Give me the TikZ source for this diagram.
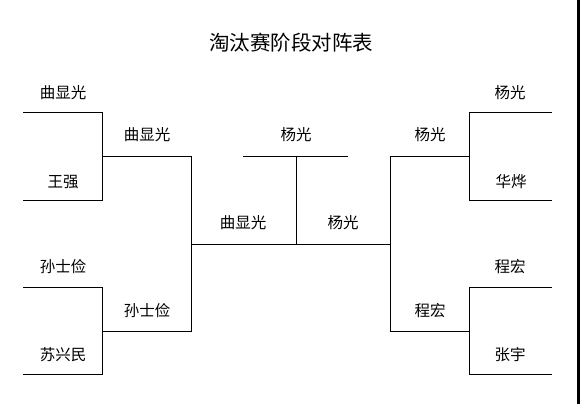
\documentclass[tikz,border=0pt]{standalone}
\usepackage{fontspec}
\newfontfamily\cjk{Noto Sans CJK SC}
\usetikzlibrary{positioning,calc}

\begin{document}
\begin{tikzpicture}[
		x=1pt, y=-1pt,
		bracket/.style={draw, line width=1pt, line join=miter},
		player/.style={font=\cjk\fontsize{15.5}{15.5}\selectfont, inner sep=0pt},
		title/.style={font=\cjk\fontsize{20.5}{20.5}\selectfont, inner sep=0pt}
		]
		\useasboundingbox (0,0) rectangle (580,406);
		
		% --------------------------------------------------
		% Title
		% --------------------------------------------------
		\node[title] (T) at (291,43) {淘汰赛阶段对阵表};
		
		% --------------------------------------------------
		% LEFT HALF
		% --------------------------------------------------
		\coordinate (a1) at (23,113);  \coordinate (a2) at (102,113);
		\coordinate (a3) at (102,200); \coordinate (a4) at (23,200);
		\coordinate (aw) at (102,157);
		\coordinate (b1) at (23,287);  \coordinate (b2) at (102,287);
		\coordinate (b3) at (102,374); \coordinate (b4) at (23,374);
		\coordinate (bw) at (102,331);
		\coordinate (s1) at (191,157); \coordinate (s2) at (191,331);
		
		\draw[bracket] (a1) -- (a2) -- (a3) -- (a4);
		\draw[bracket] (b1) -- (b2) -- (b3) -- (b4);
		\draw[bracket] (aw) -- (s1) -- (s2) -- (bw);
		
		\node[player] (p1) at (63,93)  {曲显光};
		\node[player] (p2) at (63,182) {王强};
		\node[player] (p3) at (63,267) {孙士俭};
		\node[player] (p4) at (63,355) {苏兴民};
		\node[player] (q1) at (147,135) {曲显光};
		\node[player] (q2) at (147,311) {孙士俭};
		
		% --------------------------------------------------
		% RIGHT HALF
		% --------------------------------------------------
		\coordinate (c1) at (552,113); \coordinate (c2) at (469,113);
		\coordinate (c3) at (469,200); \coordinate (c4) at (552,200);
		\coordinate (cw) at (469,157);
		\coordinate (d1) at (552,287); \coordinate (d2) at (469,287);
		\coordinate (d3) at (469,374); \coordinate (d4) at (552,374);
		\coordinate (dw) at (469,331);
		\coordinate (s3) at (390,157); \coordinate (s4) at (390,331);
		
		\draw[bracket] (c1) -- (c2) -- (c3) -- (c4);
		\draw[bracket] (d1) -- (d2) -- (d3) -- (d4);
		\draw[bracket] (cw) -- (s3) -- (s4) -- (dw);
		
		\node[player] (p5) at (510,93)  {杨光};
		\node[player] (p6) at (511,182) {华烨};
		\node[player] (p7) at (510,267) {程宏};
		\node[player] (p8) at (510,355) {张宇};
		\node[player] (q3) at (430,135) {杨光};
		\node[player] (q4) at (430,311) {程宏};
		
		% --------------------------------------------------
		% Final
		% --------------------------------------------------
		\coordinate (f1) at (191,244); \coordinate (f2) at (390,244);
		\coordinate (k1) at (296,244); \coordinate (k2) at (296,157);
		\coordinate (w1) at (243,157); \coordinate (w2) at (348,157);
		
		\draw[bracket] (f1) -- (f2);
		\draw[bracket] (k1) -- (k2);
		\draw[bracket] (w1) -- (w2);
		
		\node[player] (r1) at (243,223) {曲显光};
		\node[player] (r2) at (343,223) {杨光};
		\node[player] (ch) at (296,135) {杨光};
		
		% scan edge
		\fill[black] (576.5,0) rectangle (580,404);
		
	\end{tikzpicture}
\end{document}
